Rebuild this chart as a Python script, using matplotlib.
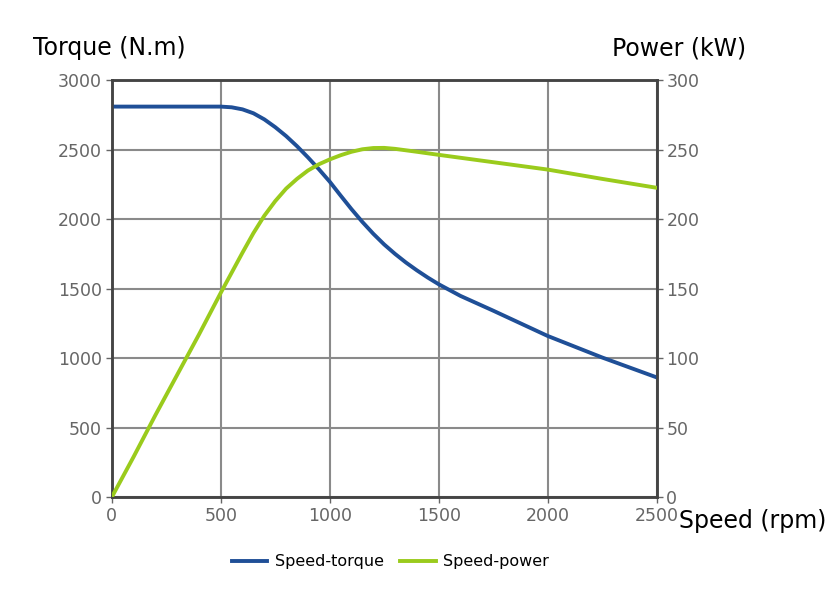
import matplotlib
matplotlib.use('agg')
import matplotlib.pyplot as plt

# values
speed_t = [0, 250, 500, 550, 600, 650, 700, 750, 800, 850, 900, 950, 1000, 1050, 1100, 1150, 1200, 1250,
           1300, 1350, 1400, 1450, 1500, 1600, 1750, 2000, 2250, 2500]
torque = [2810, 2810, 2810, 2805, 2790, 2762, 2718, 2662, 2598, 2525, 2445, 2360, 2270, 2170, 2072, 1980,
          1895, 1818, 1750, 1688, 1632, 1580, 1532, 1448, 1342, 1160, 1005, 862]

speed_p = [0, 100, 200, 300, 400, 500, 600, 650, 700, 750, 800, 850, 900, 950, 1000, 1050, 1100, 1150,
           1200, 1250, 1300, 1400, 1500, 1750, 2000, 2250, 2500]
power = [0, 29, 59, 88, 117, 147, 176, 190, 202.5, 213, 222, 229, 235, 239.5, 243, 246, 248.5, 250.3,
         251.2, 251.3, 250.6, 248.5, 246.3, 241, 235.7, 229, 222.6]

blue = "#1f4f97"
green = "#9acb1c"
grid_c = "#8a8a8a"
tick_c = "#666666"

fig = plt.figure(figsize=(8.28, 5.94), dpi=100)
ax = fig.add_axes([0.135, 0.163, 0.658, 0.702])
ax2 = ax.twinx()

l1, = ax.plot(speed_t, torque, color=blue, lw=2.8, label="Speed-torque", zorder=3)
l2, = ax2.plot(speed_p, power, color=green, lw=2.8, label="Speed-power", zorder=3)

ax.set_xlim(0, 2500)
ax.set_ylim(0, 3000)
ax2.set_ylim(0, 300)
ax.set_xticks([0, 500, 1000, 1500, 2000, 2500])
ax.set_yticks(range(0, 3001, 500))
ax2.set_yticks(range(0, 301, 50))
ax.grid(True, color=grid_c, lw=1.5)
ax.set_axisbelow(True)

for a in (ax, ax2):
    for s in a.spines.values():
        s.set_color("#444444")
        s.set_linewidth(1.8)
    a.tick_params(colors=tick_c, labelsize=12.5, length=4, width=1, pad=3)
    for lab in a.get_xticklabels() + a.get_yticklabels():
        lab.set_color(tick_c)

fig.text(0.04, 0.919, "Torque (N.m)", fontsize=17, ha="left", va="center")
fig.text(0.739, 0.919, "Power (kW)", fontsize=17, ha="left", va="center")
fig.text(0.82, 0.123, "Speed (rpm)", fontsize=17, ha="left", va="center")

fig.legend(handles=[l1, l2], loc="center", bbox_to_anchor=(0.472, 0.054), ncol=2,
           frameon=False, fontsize=11.5, handlelength=2.2, handletextpad=0.5, columnspacing=1.0)

plt.savefig("out.png", dpi=100)
